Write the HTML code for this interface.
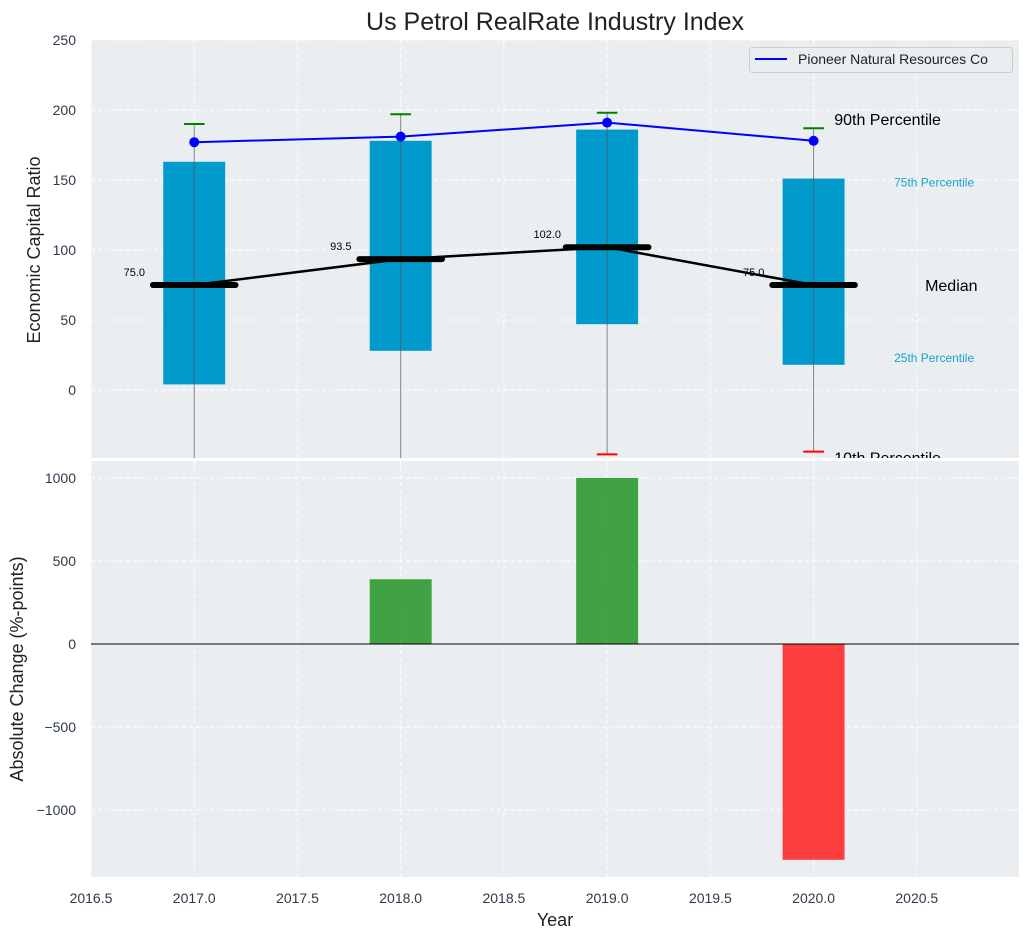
<!DOCTYPE html>
<html><head><meta charset="utf-8"><style>
body{margin:0;background:#fff;font-family:"Liberation Sans",sans-serif;}
svg text{font-family:"Liberation Sans",sans-serif;}
</style></head><body>
<svg id="c" width="1029" height="940" xmlns="http://www.w3.org/2000/svg"></svg>
<script>
const years=[2017,2018,2019,2020];
const p10=[-80,-80,-46,-44];
const p25=[4,28,47,18];
const p50=[75,93.5,102,75];
const p75=[163,178,186,151];
const p90=[190,197,198,187];
const company=[177,181,191,178];
const changeYears=[2018,2019,2020];
const changes=[390,1000,-1300];
const xTicks=[2016.5,2017,2017.5,2018,2018.5,2019,2019.5,2020,2020.5];
const yTicksTop=[0,50,100,150,200,250];
const yTicksBot=[-1000,-500,0,500,1000];

const NS="http://www.w3.org/2000/svg";
const svg=document.getElementById('c');
function el(t,a,p){const e=document.createElementNS(NS,t);for(const k in a)e.setAttribute(k,a[k]);(p||svg).appendChild(e);return e;}
const L=91,R=1019;
const x=v=>L+(v-2016.5)/(2020.995-2016.5)*(R-L);
const T0=40,T1=458, yt=v=>390-v*1.4;
const B0=461,B1=877, yb=v=>644-v*0.166;
const TXT='#2e3a4a';

let t=el('text',{x:555,y:30,'text-anchor':'middle','font-size':25,fill:'#222'});t.textContent='Us Petrol RealRate Industry Index';



let bg=el('rect',{x:L,y:T0,width:R-L,height:T1-T0,fill:'#eaeef0'});


bg=el('rect',{x:L,y:B0,width:R-L,height:B1-B0,fill:'#eaeef0'});



const cpT=el('clipPath',{id:'ct'});el('rect',{x:L,y:T0,width:R-L,height:T1-T0},cpT);
const cpB=el('clipPath',{id:'cb'});el('rect',{x:L,y:B0,width:R-L,height:B1-B0},cpB);
const gT=el('g',{'clip-path':'url(#ct)'});const gB=el('g',{'clip-path':'url(#cb)'});

xTicks.forEach(v=>{
 el('line',{x1:x(v),x2:x(v),y1:T0,y2:T1,stroke:'#fff','stroke-dasharray':'4,3'},gT);
 el('line',{x1:x(v),x2:x(v),y1:B0,y2:B1,stroke:'#fff','stroke-dasharray':'4,3'},gB);
 const tx=el('text',{x:x(v),y:903,'text-anchor':'middle','font-size':14,fill:TXT});tx.textContent=v.toFixed(1);
 
 
});
yTicksTop.forEach(v=>{
 el('line',{x1:L,x2:R,y1:yt(v),y2:yt(v),stroke:'#fff','stroke-dasharray':'4,3'},gT);
 const tx=el('text',{x:76,y:yt(v)+5,'text-anchor':'end','font-size':14,fill:TXT});tx.textContent=v;
 
 
});
yTicksBot.forEach(v=>{
 el('line',{x1:L,x2:R,y1:yb(v),y2:yb(v),stroke:'#fff','stroke-dasharray':'4,3'},gB);
 const tx=el('text',{x:76,y:yb(v)+5,'text-anchor':'end','font-size':14,fill:TXT});tx.textContent=v<0?'\u2212'+(-v):v;
 
 
});

years.forEach((yr,i)=>{
 const b=el('rect',{x:x(yr-0.15),y:yt(p75[i]),width:x(yr+0.15)-x(yr-0.15),height:yt(p25[i])-yt(p75[i]),fill:'#009acd'},gT);
 
 
 const w=el('line',{x1:x(yr),x2:x(yr),y1:yt(p90[i]),y2:yt(p10[i]),stroke:'#555','stroke-width':1,opacity:0.7},gT);
 
 
 el('line',{x1:x(yr-0.05),x2:x(yr+0.05),y1:yt(p90[i]),y2:yt(p90[i]),stroke:'green','stroke-width':2},gT);
 el('line',{x1:x(yr-0.05),x2:x(yr+0.05),y1:yt(p10[i]),y2:yt(p10[i]),stroke:'red','stroke-width':2},gT);
});
let pts=years.map((yr,i)=>x(yr)+','+yt(p50[i])).join(' ');
let ml=el('polyline',{points:pts,fill:'none',stroke:'#000','stroke-width':2.5},gT);


years.forEach((yr,i)=>{
 const m=el('line',{x1:x(yr-0.2),x2:x(yr+0.2),y1:yt(p50[i]),y2:yt(p50[i]),stroke:'#000','stroke-width':6,'stroke-linecap':'round'},gT);
 
 
 const tx=el('text',{x:x(yr-0.29),y:yt(p50[i])-9,'text-anchor':'middle','font-size':11,fill:'#000'},gT);tx.textContent=p50[i].toFixed(1);
 
 
});
pts=years.map((yr,i)=>x(yr)+','+yt(company[i])).join(' ');
let cl=el('polyline',{points:pts,fill:'none',stroke:'blue','stroke-width':2},gT);


years.forEach((yr,i)=>{const d=el('circle',{cx:x(yr),cy:yt(company[i]),r:5,fill:'blue'},gT);
 
 });

const last=years.length-1;
function ann(txt,xx,yy,size,col,name,par){const a=el('text',{x:xx,y:yy,'font-size':size,fill:col},par||gT);a.textContent=txt;
 
 
 return a;}
ann('90th Percentile',x(years[last]+0.1),yt(p90[last])-3,16,'#000','p90-label');
ann('75th Percentile',x(years[last]+0.39),yt(p75[last])+8,12,'#1a9fcf','p75-label');
ann('Median',x(years[last]+0.54),yt(p50[last])+6,16,'#000','median-label');
ann('25th Percentile',x(years[last]+0.39),yt(p25[last])-3,12,'#1a9fcf','p25-label');
ann('10th Percentile',x(years[last]+0.1),yt(p10[last])+12,16,'#000','p10-label');

const lg=el('g',{});


el('rect',{x:749.5,y:47.5,width:263,height:25,rx:3,fill:'#eaeef0',stroke:'#ccc'},lg);
el('line',{x1:755,x2:787,y1:59,y2:59,stroke:'blue','stroke-width':2},lg);
const lt=el('text',{x:798,y:64,'font-size':14,fill:'#222'},lg);lt.textContent='Pioneer Natural Resources Co';

changeYears.forEach((yr,i)=>{const v=changes[i];
 const b=el('rect',{x:x(yr-0.15),y:Math.min(yb(v),yb(0)),width:x(yr+0.15)-x(yr-0.15),height:Math.abs(yb(v)-yb(0)),fill:v>=0?'#2e9930':'#ff2a2a',opacity:0.9},gB);
 
 });
el('line',{x1:L,x2:R,y1:yb(0),y2:yb(0),stroke:'#000','stroke-width':1},gB);

let yl=ann('Economic Capital Ratio',0,0,18,'#222','y-axis-title-top',svg);
yl.setAttribute('transform','translate(40,250) rotate(-90)');yl.setAttribute('text-anchor','middle');
yl=ann('Absolute Change (%-points)',0,0,18,'#222','y-axis-title-bottom',svg);
yl.setAttribute('transform','translate(23,669) rotate(-90)');yl.setAttribute('text-anchor','middle');
const xl=ann('Year',555,926,18,'#222','x-axis-title',svg);xl.setAttribute('text-anchor','middle');
</script>
</body></html>
